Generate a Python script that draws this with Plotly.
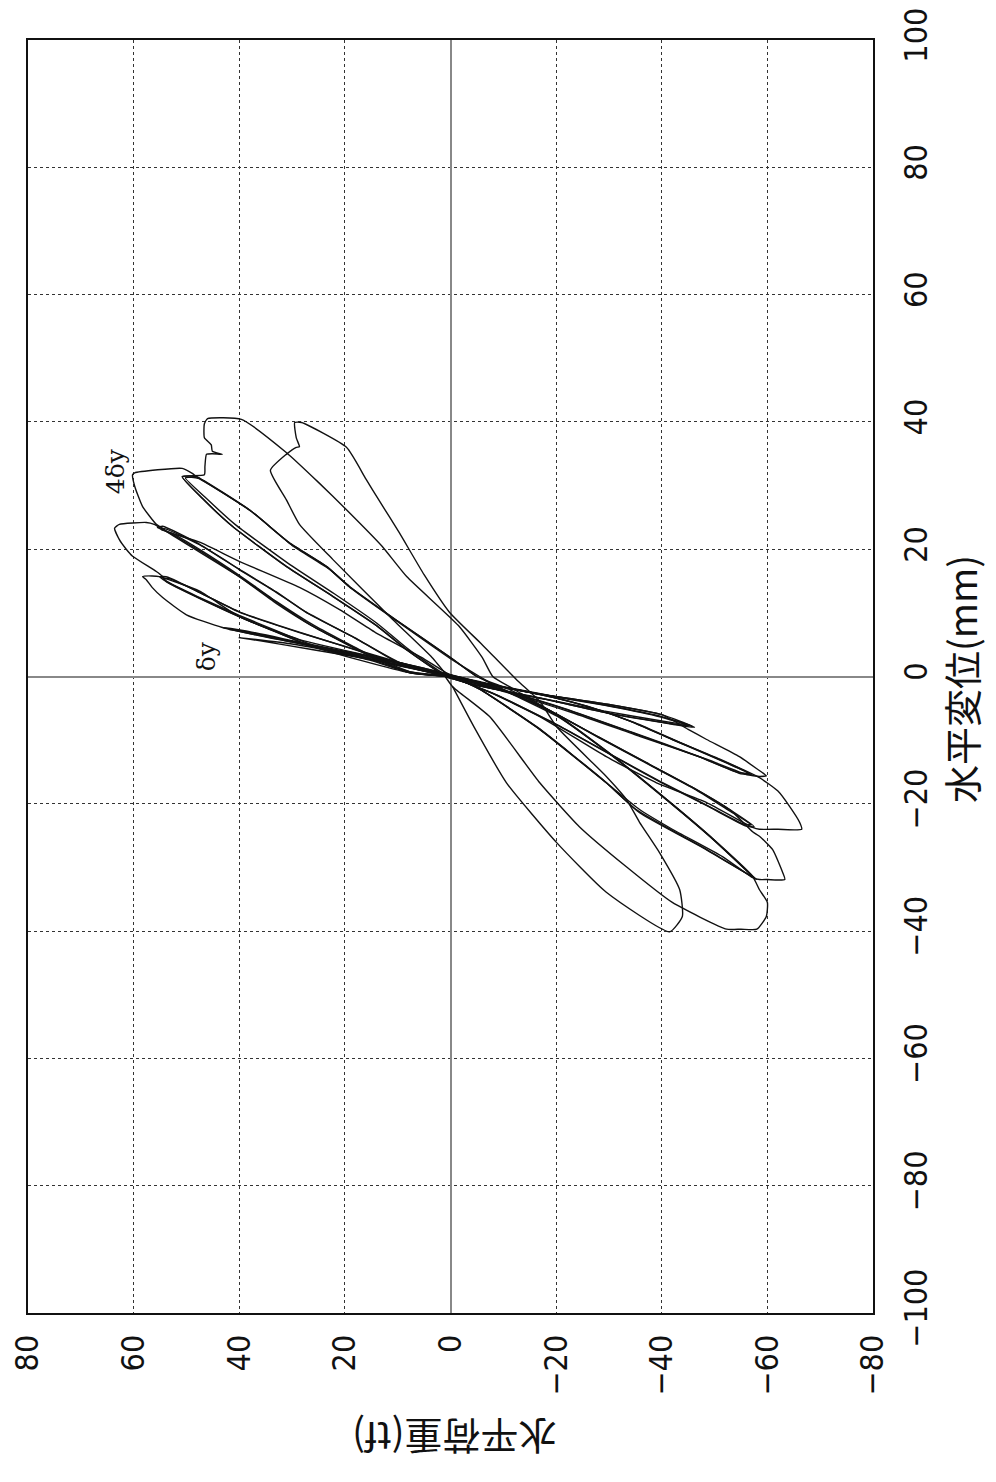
import plotly.graph_objects as go

# Displacement (mm) / load (tf) for each loading cycle
disp_dy1 = [0, 1.8, 3.7, 5.6, 7.7, 7.2, 5.3, 3.3, 1.3, 0, -1.0, -2.9, -4.4, -6.0, -8.0, -7.5, -5.8, -3.6, -1.6, 0]
load_dy1 = [0, 10, 20, 30, 43.2, 39, 28, 16, 5, -1, -6, -18, -30, -40, -46.2, -42, -30, -18, -6, 1]
disp_dy2 = [0, 1.6, 3.4, 5.1, 6.1, 5.6, 4.2, 2.4, 0.6, -1.1, -3.0, -4.6, -6.3, -7.6, -7.0, -5.4, -3.2, -1.2, 0]
load_dy2 = [0, 9, 19, 30, 40.0, 36, 26, 13, 2, -7, -19, -30, -40, -45.0, -40, -29, -16, -4, 1]
disp_dy3 = [0, 1.7, 3.6, 5.4, 7.4, 6.9, 5.0, 3.0, 1.0, -1.0, -2.8, -4.5, -6.2, -7.8, -7.3, -5.6, -3.4, -1.4, 0]
load_dy3 = [0, 10, 20, 30, 42.0, 38, 27, 15, 4, -6, -17, -29, -39, -45.8, -41, -29, -17, -5, 1]

disp_2dy1 = [0, 1.9, 3.7, 5.6, 7.7, 9.7, 12.4, 14.0, 15.2, 15.7, 15.8, 15.7, 13.4, 9.4, 5.8, 2.2, 0.3,
             -1.0, -2.9, -4.4, -6.0, -8.3, -9.9, -12.6, -14.5, -15.6, -15.7, -15.4, -13.0, -9.4, -5.7, -2.5, -0.5, 0.3]
load_2dy1 = [0, 9, 20, 31, 43.2, 50, 54.5, 56.5, 57.6, 58.3, 56.5, 55.1, 47.5, 40.0, 28.6, 9.7, 0,
             -6, -18, -30, -40, -45, -48.5, -54.7, -58.0, -59.8, -58.5, -56.1, -48.5, -35.8, -23.1, -10.6, -2, 2]
disp_2dy2 = [0, 0.6, 2.5, 4.7, 7.0, 9.4, 12.5, 14.9, 15.7, 15.6, 13.0, 10.1, 6.9, 4.5, 2.2, 0.3,
             -1.0, -3.0, -4.7, -7.0, -9.9, -13.5, -15.4, -15.3, -12.6, -9.0, -5.2, -2.0, 0.2]
load_2dy2 = [0, 7.8, 15, 26.1, 33, 40.0, 48, 53.8, 55.1, 53.5, 47, 40.0, 28.6, 19, 9.7, 1,
             -6, -18, -26, -34, -42, -52, -57, -55, -47, -35, -22, -9, 1]
disp_2dy3 = [0, 0.7, 2.6, 4.9, 7.2, 9.6, 12.6, 14.7, 15.4, 15.3, 12.8, 10.0, 6.8, 4.3, 2.0, 0.2,
             -1.2, -3.2, -5.0, -7.3, -10.2, -13.6, -15.2, -15.1, -12.4, -8.8, -5.0, -1.8, 0.2]
load_2dy3 = [0, 7.5, 15, 26, 33, 40, 48, 53.2, 54.4, 53, 46.5, 39.5, 28, 18.5, 9.5, 1,
             -7, -19, -27, -35, -43, -52.5, -56.5, -54.5, -46.5, -34.5, -21.5, -8.5, 1]

disp_3dy1 = [0, 0.6, 4.7, 9.4, 14.9, 15.7, 16.5, 18.9, 20.0, 21.5, 23.3, 23.9, 24.2, 23.9, 22.8, 21.1, 18.1, 14.0, 10.5, 6.9, 3.0, 0,
             -1.0, -3.0, -4.7, -7.0, -9.9, -13.0, -15.9, -18.0, -20.4, -22.9, -24.0, -24.0, -24.0, -23.7, -19.8, -16.7, -12.6, -6.3, -2.5, 0.3]
load_3dy1 = [0, 7.8, 26.1, 40, 53.8, 54.5, 55.7, 60.2, 61.4, 62.7, 63.6, 62.7, 57.6, 56.1, 53.8, 47.5, 40.0, 28.6, 21, 14.2, 5.5, -0.5,
             -6, -18, -26, -34, -42, -51, -58.5, -62, -64.2, -66.1, -66.5, -62, -58.5, -57.2, -48.5, -39.0, -29.5, -16.9, -7.5, 1]
disp_3dy2 = [0, 0.6, 3.5, 7.9, 11.5, 15.7, 19.5, 22.8, 23.4, 23.6, 21.0, 16.8, 13.5, 10.1, 6.0, 2.2, 0.3,
             -1.5, -5.0, -9.5, -13.5, -17.5, -21.0, -23.6, -23.5, -20.5, -16.7, -12.6, -8.0, -3.0, 0.3]
load_3dy2 = [0, 7.8, 16, 26.1, 33, 40.0, 47, 53.8, 55.5, 54.5, 48, 40.0, 33.5, 27.3, 18, 9.7, 2,
             -8, -18, -28, -37, -46, -53, -57.5, -56, -49, -40, -31, -21, -9, 1]
disp_3dy3 = [0, 0.7, 3.7, 8.1, 11.8, 15.9, 19.7, 22.6, 23.1, 23.2, 20.7, 16.6, 13.3, 9.9, 5.8, 2.0, 0.2,
             -1.7, -5.2, -9.8, -13.8, -17.8, -21.2, -23.3, -23.2, -20.2, -16.4, -12.3, -7.7, -2.8, 0.3]
load_3dy3 = [0, 7.5, 16, 26, 33, 40, 47, 53, 54.8, 54, 47.5, 39.5, 33, 27, 17.5, 9.5, 2,
             -8.5, -18.5, -28.5, -37.5, -46.5, -53, -57, -55.5, -48.5, -39.5, -30.5, -20.5, -8.5, 1]

disp_4dy1 = [0, 0.6, 7.9, 15.7, 22.8, 23.4, 23.9, 26.7, 29.9, 31.7, 32.0, 32.7, 31.9, 31.4, 26.2, 21.0, 17.3, 14.1, 9.0, 3.1, 0,
             -2.0, -5.0, -9.5, -13.5, -17.5, -21.0, -24.4, -25.1, -27.2, -30.8, -31.9, -31.9, -31.9, -31.6, -28.3, -24.0, -20.9, -16.7, -8.3, -2.0, 0.5]
load_4dy1 = [0, 7.8, 26.1, 40, 53.8, 54.7, 55.7, 58.3, 59.8, 60.2, 59.8, 50.8, 48.9, 48.1, 38.1, 30.5, 23.5, 19.1, 10.5, 0.2, -5,
             -11, -18, -28, -37, -46, -53, -57.2, -58.5, -61.0, -62.9, -63.3, -60, -58.5, -57.2, -51.5, -42.0, -35.8, -29.5, -16.9, -5.5, 1]
disp_4dy2 = [0, 0.6, 4.0, 8.0, 12.6, 17.3, 23.6, 28.0, 31.4, 31.5, 31.4, 26.2, 21.0, 17.3, 14.1, 9.0, 3.1, 0,
             -2.0, -6.0, -12.0, -19.3, -25.0, -31.4, -31.9, -27.0, -21.4, -16.7, -8.3, -2.0, 0.3]
load_4dy2 = [0, 2, 8, 14, 22.3, 31.1, 41.3, 47, 50.8, 49.5, 48.1, 38.1, 30.5, 23.5, 19.1, 10.5, 0.2, -5,
             -10, -20, -30, -40.9, -49, -57.2, -58, -48, -35.8, -29.5, -16.9, -5.5, 0]
disp_4dy3 = [0, 0.8, 4.3, 8.4, 13.0, 17.7, 23.9, 28.2, 31.2, 31.3, 31.1, 25.8, 20.6, 16.9, 13.7, 8.6, 2.8, 0,
             -2.3, -6.4, -12.4, -19.6, -25.3, -31.2, -31.6, -26.7, -21.0, -16.3, -8.0, -1.8, 0.3]
load_4dy3 = [0, 2, 8, 14, 22, 30.6, 40.8, 46.5, 50.2, 49, 47.6, 37.5, 30, 23, 18.6, 10, 0, -5.5,
             -10.5, -20.5, -30.5, -41.2, -49.3, -57, -57.5, -47.5, -35.3, -29, -16.5, -5.2, 0]

disp_5dy1 = [0, 0.6, 4.0, 8.0, 12.6, 17.3, 23.6, 28.0, 31.4, 31.7, 33.0, 34.9, 35.0, 34.9, 35.4, 36.4, 37.5, 39.7, 40.5,
             40.4, 35.2, 30.5, 26.2, 20.5, 15.7, 8.0, 3.0, 0,
             -2.0, -6.0, -12.0, -19.3, -25.0, -31.4, -33.5, -35.5, -37.7, -39.7, -39.7, -39.7,
             -35.5, -29.9, -23.6, -16.7, -6.3, -1.6, 0]
load_5dy1 = [0, 2, 8, 14, 22.3, 31.1, 41.3, 47, 50.8, 46.6, 46.5, 46.2, 45.1, 43.2, 45.1, 45.3, 46.6, 46.6, 46.0,
             39.6, 31.1, 25, 19.7, 13, 8.3, -1.5, -6, -8,
             -12, -20, -30, -40.9, -49, -57.2, -58.5, -60.0, -59.8, -58.0, -55, -52.3,
             -42.0, -33.3, -24.4, -16.9, -7.4, -0.4, 1]
disp_5dy2 = [0, 3.0, 9.0, 18.4, 23.9, 27.8, 32.4, 34.9, 36.0, 36.1, 37.5, 39.9, 39.9,
             36.0, 31.0, 27.5, 22.6, 16.0, 10.1, 5.0, -0.5,
             -4.0, -7.9, -15.7, -19.3, -22.9, -27.7, -33.5, -37.7, -40.1,
             -33.9, -26.1, -16.7, -8.0, -1.6]
load_5dy2 = [0.5, 3.5, 11, 22.3, 28.6, 31.1, 34.1, 31.1, 29.2, 28.6, 29.2, 29.5, 28.2,
             19.7, 16, 13.4, 9.7, 5, 0.2, -6, -12.5,
             -17, -20.1, -29.5, -33.3, -35.8, -39.6, -43.4, -43.9, -41.5,
             -29.5, -20.1, -10.6, -4.5, -0.4]

cycles = [
    (disp_dy1, load_dy1), (disp_dy2, load_dy2), (disp_dy3, load_dy3),
    (disp_2dy1, load_2dy1), (disp_2dy2, load_2dy2), (disp_2dy3, load_2dy3),
    (disp_3dy1, load_3dy1), (disp_3dy2, load_3dy2), (disp_3dy3, load_3dy3),
    (disp_4dy1, load_4dy1), (disp_4dy2, load_4dy2), (disp_4dy3, load_4dy3),
    (disp_5dy1, load_5dy1), (disp_5dy2, load_5dy2),
]

load_ticks = [80, 60, 40, 20, 0, -20, -40, -60, -80]
disp_ticks = [100, 80, 60, 40, 20, 0, -20, -40, -60, -80, -100]

fig = go.Figure()
# The chart is rotated: displacement runs vertically, load horizontally (positive to the left)
for d, p in cycles:
    fig.add_trace(go.Scatter(x=p, y=d, mode="lines",
                             line=dict(color="#111", width=1.4, shape="spline", smoothing=0.5),
                             showlegend=False, hoverinfo="skip"))

tick_font = dict(family="Liberation Sans Narrow, DejaVu Sans Condensed, Liberation Sans, sans-serif", size=32, color="#111")

fig.update_xaxes(range=[80, -80], tickvals=load_ticks, ticktext=[str(v).replace("-", "\u2212") for v in load_ticks],
                 tickangle=-90, tickfont=tick_font, ticks="", ticklabelstandoff=7, automargin=False,
                 ticklabeloverflow="allow",
                 showgrid=True, gridcolor="#333", griddash="dot", gridwidth=1,
                 zeroline=True, zerolinecolor="#888", zerolinewidth=1.5,
                 showline=True, linecolor="#111", linewidth=2, mirror=True)
fig.update_yaxes(range=[-100, 100], side="right", tickvals=disp_ticks,
                 ticktext=[str(v).replace("-", "\u2212") for v in disp_ticks],
                 tickangle=-90, tickfont=tick_font, ticks="", ticklabelstandoff=14, automargin=False,
                 ticklabeloverflow="allow",
                 showgrid=True, gridcolor="#333", griddash="dot", gridwidth=1,
                 zeroline=True, zerolinecolor="#888", zerolinewidth=1.5,
                 showline=True, linecolor="#111", linewidth=2, mirror=True)

title_font = dict(family="Noto Sans CJK JP, sans-serif", size=38, color="#111")
fig.add_annotation(text="水平変位(mm)", xref="paper", yref="paper", x=1.103, y=0.498,
                   xanchor="center", yanchor="middle",
                   textangle=-90, showarrow=False, font=title_font)
fig.add_annotation(text="水平荷重(tf)", xref="paper", yref="paper", x=0.505, y=-0.098,
                   xanchor="center", yanchor="middle",
                   textangle=180, showarrow=False, font=title_font)

label_font = dict(family="DejaVu Serif, serif", size=25, color="#111")
fig.add_annotation(text="4δy", x=63.4, y=32.2, textangle=-90, showarrow=False, font=label_font)
fig.add_annotation(text="δy", x=46.2, y=3.1, textangle=-90, showarrow=False, font=label_font)

# page body has an 8px margin, so the figure is sized to fit inside the window
fig.update_layout(width=980, height=1466, margin=dict(l=20, r=115, t=32, b=161),
                  plot_bgcolor="white", paper_bgcolor="white")

fig.write_html("out.html")
